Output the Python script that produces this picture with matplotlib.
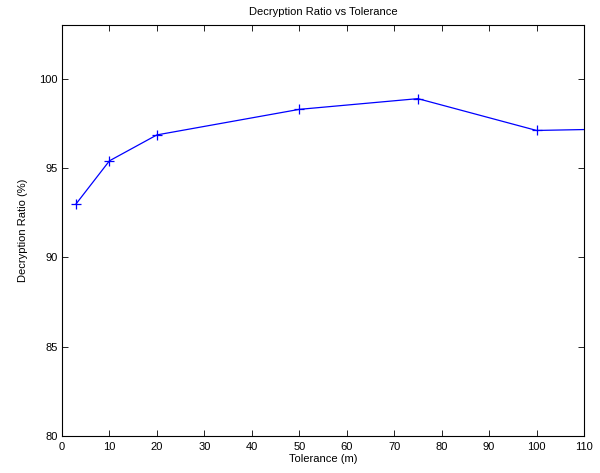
import numpy as np
import matplotlib
matplotlib.use('Agg')
import matplotlib.pyplot as plt

plt.rcParams['font.family'] = ['Liberation Sans', 'DejaVu Sans']

tolerance = [3, 10, 20, 50, 75, 100, 110]
ratio = [93.0, 95.4, 96.85, 98.28, 98.88, 97.1, 97.15]

fig = plt.figure(figsize=(6, 4.73), dpi=100)
ax = fig.add_axes([0.1033, 0.0782, 0.87, 0.8689])
# last point sits on the right edge, no marker visible there in the original
ax.plot(tolerance, ratio, color='#0000ff', lw=0.9, marker='+', ms=7, mew=0.9,
        markevery=slice(0, len(tolerance) - 1))

ax.set_xlim(0, 110)
ax.set_ylim(80, 103)
ax.set_xticks(np.arange(0, 111, 10))
ax.set_yticks([80, 85, 90, 95, 100])
ax.tick_params(direction='in', top=True, right=True, labelsize=8, length=4, width=0.6)
ax.tick_params(axis='x', pad=4)
ax.tick_params(axis='y', pad=3)
for s in ax.spines.values():
    s.set_linewidth(0.8)

ax.set_title('Decryption Ratio vs Tolerance', fontsize=8, pad=7)
ax.set_xlabel('Tolerance (m)', fontsize=8, labelpad=2)
ax.set_ylabel('Decryption Ratio (%)', fontsize=8, labelpad=8)

fig.savefig('out.png', dpi=100)
